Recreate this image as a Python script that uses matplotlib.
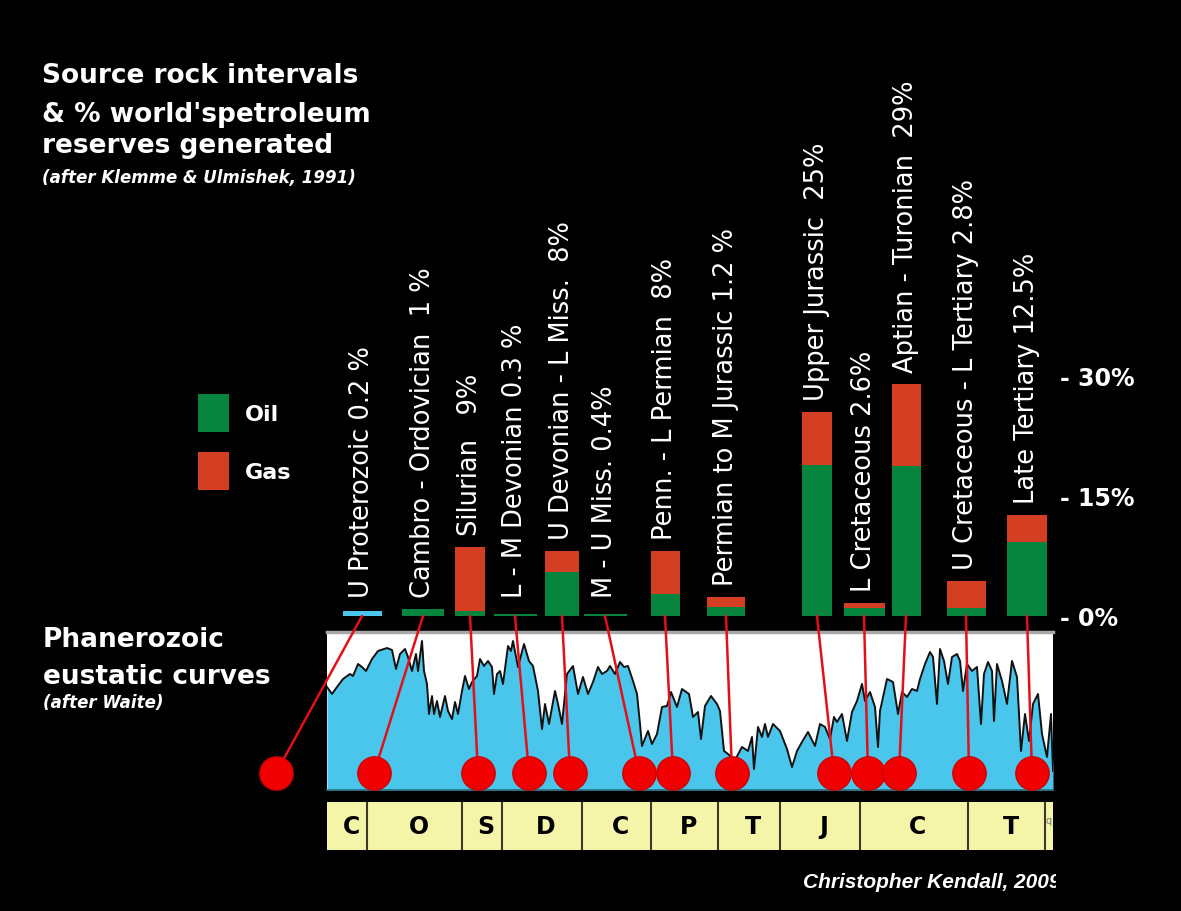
import matplotlib.pyplot as plt
import numpy as np
from matplotlib.lines import Line2D
from matplotlib.patches import ConnectionPatch, Patch, Rectangle

# source rock intervals (% of world petroleum reserves), drawn oil / gas parts
labels = [
    "U Proterozoic 0.2 %",
    "Cambro - Ordovician  1 %",
    "Silurian   9%",
    "L - M Devonian 0.3 %",
    "U Devonian - L Miss.  8%",
    "M - U Miss. 0.4%",
    "Penn. - L Permian  8%",
    "Permian to M Jurassic 1.2 %",
    "Upper Jurassic  25%",
    "L Cretaceous 2.6%",
    "Aptian - Turonian  29%",
    "U Cretaceous - L Tertiary 2.8%",
    "Late Tertiary 12.5%",
]
oil = [0.6, 0.9, 0.6, 0.25, 5.5, 0.25, 2.75, 1.1, 18.9, 1.0, 18.75, 1.0, 9.25]
gas = [0.0, 0.0, 8.0, 0.0, 2.6, 0.0, 5.4, 1.3, 6.6, 0.6, 10.25, 3.4, 3.4]

# position of each interval along the (schematic) time scale, 0 = left end
bar_pos = [35, 96, 143, 188, 235, 278, 338, 399, 490, 537, 579, 639, 700]
bar_w = [39, 42, 30, 43, 34, 43, 29, 38, 30, 41, 29, 39, 40]
dot_pos = [-51, 47, 151, 202, 243, 312, 346, 405, 507, 541, 572, 642, 705]
dot_level = 17

# Phanerozoic eustatic curve (relative sea level, arbitrary units)
eu_x = [0, 5, 10, 16, 23, 26, 31, 35, 39, 45, 51, 60, 65, 69, 73, 78, 81, 85, 89, 91,
        95, 97, 100, 102, 105, 107, 110, 113, 118, 121, 125, 128, 131, 135, 138, 142,
        145, 150, 153, 157, 161, 165, 167, 170, 173, 176, 181, 184, 186, 191, 197, 202,
        206, 211, 215, 218, 222, 228, 231, 235, 240, 246, 251, 256, 261, 266, 271, 275,
        280, 283, 288, 293, 297, 301, 306, 310, 313, 315, 321, 325, 330, 335, 340, 344,
        350, 355, 362, 366, 371, 374, 378, 384, 390, 393, 397, 401, 408, 415, 421, 425,
        427, 431, 435, 438, 441, 446, 453, 460, 465, 470, 475, 481, 488, 493, 498, 503,
        507, 510, 515, 520, 525, 530, 535, 538, 543, 548, 551, 553, 560, 566, 571, 575,
        580, 585, 590, 593, 598, 603, 606, 610, 613, 617, 621, 625, 630, 633, 636, 640,
        645, 650, 654, 657, 661, 665, 667, 670, 675, 680, 685, 690, 694, 698, 702, 706,
        711, 715, 720, 724, 726]
eu_level = [103, 96, 103, 111, 116, 114, 126, 123, 119, 131, 139, 142, 140, 121, 136, 141,
            133, 119, 136, 119, 149, 119, 106, 76, 94, 76, 89, 73, 94, 79, 71, 88, 76, 99,
            114, 101, 108, 114, 131, 124, 129, 123, 96, 116, 119, 106, 144, 139, 149, 123,
            146, 129, 124, 99, 61, 86, 66, 99, 86, 66, 116, 124, 96, 113, 96, 108, 123,
            116, 119, 124, 116, 128, 123, 124, 109, 96, 66, 44, 59, 46, 56, 83, 84, 98, 83,
            101, 96, 73, 78, 51, 84, 94, 86, 79, 39, 36, 30, 43, 39, 53, 21, 63, 53, 66,
            53, 66, 59, 41, 23, 39, 48, 58, 44, 66, 63, 51, 73, 68, 76, 49, 78, 89, 106,
            89, 98, 83, 43, 79, 111, 108, 76, 98, 93, 101, 99, 111, 126, 138, 133, 86, 141,
            129, 106, 133, 136, 129, 99, 126, 119, 123, 66, 116, 128, 119, 69, 126, 109, 86,
            129, 113, 39, 76, 49, 86, 96, 56, 33, 76, 19]

period_edges = [0, 40, 135, 175, 255, 324, 391, 453, 533, 641, 718, 726]
period_names = ["C", "O", "S", "D", "C", "P", "T", "J", "C", "T", "Q"]

OIL = "#07843d"
GAS = "#d43f24"
CYAN = "#4ac6ec"
RED = "#f00000"

W, H = 1181, 912
fig = plt.figure(figsize=(W / 100, H / 100), dpi=100, facecolor="black")


def rect(x0, y0, x1, y1):
    # pixel box (from top-left) -> figure fraction
    return [x0 / W, 1 - y1 / H, (x1 - x0) / W, (y1 - y0) / H]


# bars
ax = fig.add_axes(rect(327, 377, 1053, 617))
ax.set_facecolor("none")
oil_colors = [CYAN] + [OIL] * (len(oil) - 1)
ax.bar(bar_pos, oil, width=bar_w, color=oil_colors)
ax.bar(bar_pos, gas, width=bar_w, bottom=oil, color=GAS)
ax.set_xlim(0, 726)
ax.set_ylim(0, 30)
for s in ax.spines.values():
    s.set_visible(False)
ax.set_xticks([])
ax.yaxis.tick_right()
ax.set_yticks([0, 15, 30])
ax.set_yticklabels(["- 0%", "- 15%", "- 30%"])
ax.tick_params(axis="y", length=0, pad=5, labelcolor="white", labelsize=17)
for t in ax.get_yticklabels():
    t.set_fontweight("bold")

for x, o, g, lab in zip(bar_pos, oil, gas, labels):
    base = max(o + g, 0.9) + 1.5
    ax.text(x, base, lab, rotation=90, ha="center", va="bottom", color="white",
            fontsize=18.5, clip_on=False)

# eustatic curve panel
ax2 = fig.add_axes(rect(327, 633, 1053, 791))
ax2.set_facecolor("white")
ax2.fill_between(eu_x, eu_level, 0, color=CYAN, lw=0)
ax2.plot(eu_x, eu_level, color="#111111", lw=1.4)
ax2.set_xlim(0, 726)
ax2.set_ylim(0, 158)
ax2.set_xticks([])
ax2.set_yticks([])
ax2.spines["left"].set_visible(False)
ax2.spines["right"].set_visible(False)
ax2.spines["top"].set_color("#a8a8a8")
ax2.spines["top"].set_linewidth(2.5)
ax2.spines["bottom"].set_color("#2a6f80")
ax2.spines["bottom"].set_linewidth(1.2)

# period strip
ax3 = fig.add_axes(rect(327, 803, 1053, 851))
ax3.set_facecolor("#f5f5a9")
ax3.set_xlim(0, 726)
ax3.set_ylim(0, 1)
ax3.set_xticks([])
ax3.set_yticks([])
for s in ax3.spines.values():
    s.set_visible(False)
for e in period_edges[1:-1]:
    ax3.axvline(e, color="#3a3a2a", lw=1.5)
for i, name in enumerate(period_names):
    mid = (period_edges[i] + period_edges[i + 1]) / 2
    if name == "Q":
        ax3.text(mid, 0.62, "q", ha="center", va="center", fontsize=7, color="#777777")
    else:
        ax3.text(mid + 4, 0.5, name, ha="center", va="center", fontsize=17,
                 fontweight="bold", color="black")

# red connectors from each bar down to its position on the curve
for bx, dx in zip(bar_pos, dot_pos):
    con = ConnectionPatch(xyA=(bx, 0), coordsA=ax.transData,
                          xyB=(dx, dot_level), coordsB=ax2.transData,
                          color="#e3101a", lw=1.8, zorder=5)
    fig.add_artist(con)
fig.add_artist(Line2D(dot_pos, [dot_level] * len(dot_pos), ls="none", marker="o",
                      markersize=24, color=RED, markeredgecolor="#d00000",
                      transform=ax2.transData, zorder=6))

# texts
fig.text(42 / W, 1 - 83 / H, "Source rock intervals", color="white", fontsize=19,
         fontweight="bold", va="baseline")
fig.text(42 / W, 1 - 122 / H, "& % world'spetroleum", color="white", fontsize=19,
         fontweight="bold", va="baseline")
fig.text(42 / W, 1 - 153 / H, "reserves generated", color="white", fontsize=19,
         fontweight="bold", va="baseline")
fig.text(42 / W, 1 - 183 / H, "(after Klemme & Ulmishek, 1991)", color="white",
         fontsize=12, fontweight="bold", style="italic", va="baseline")

fig.text(43 / W, 1 - 647 / H, "Phanerozoic", color="white", fontsize=19,
         fontweight="bold", va="baseline")
fig.text(43 / W, 1 - 684 / H, "eustatic curves", color="white", fontsize=19,
         fontweight="bold", va="baseline")
fig.text(43 / W, 1 - 708 / H, "(after Waite)", color="white", fontsize=12,
         fontweight="bold", style="italic", va="baseline")

credit = fig.text(803 / W, 1 - 888 / H, "Christopher Kendall, 2009", color="white",
                  fontsize=15, fontweight="bold", style="italic", va="baseline",
                  family="Liberation Sans")
credit.set_clip_path(Rectangle((0, 0), 1056 / W, 1, transform=fig.transFigure))

handles = [Patch(facecolor=OIL, label="Oil"), Patch(facecolor=GAS, label="Gas")]
fig.legend(handles=handles, loc="upper left", bbox_to_anchor=(198 / W, 1 - 395 / H),
           frameon=False, borderpad=0, borderaxespad=0, handlelength=1.4,
           handleheight=2.25, labelspacing=0.9, handletextpad=0.7, labelcolor="white",
           prop={"size": 16, "weight": "bold"})

fig.savefig("out.png", dpi=100, facecolor="black")
